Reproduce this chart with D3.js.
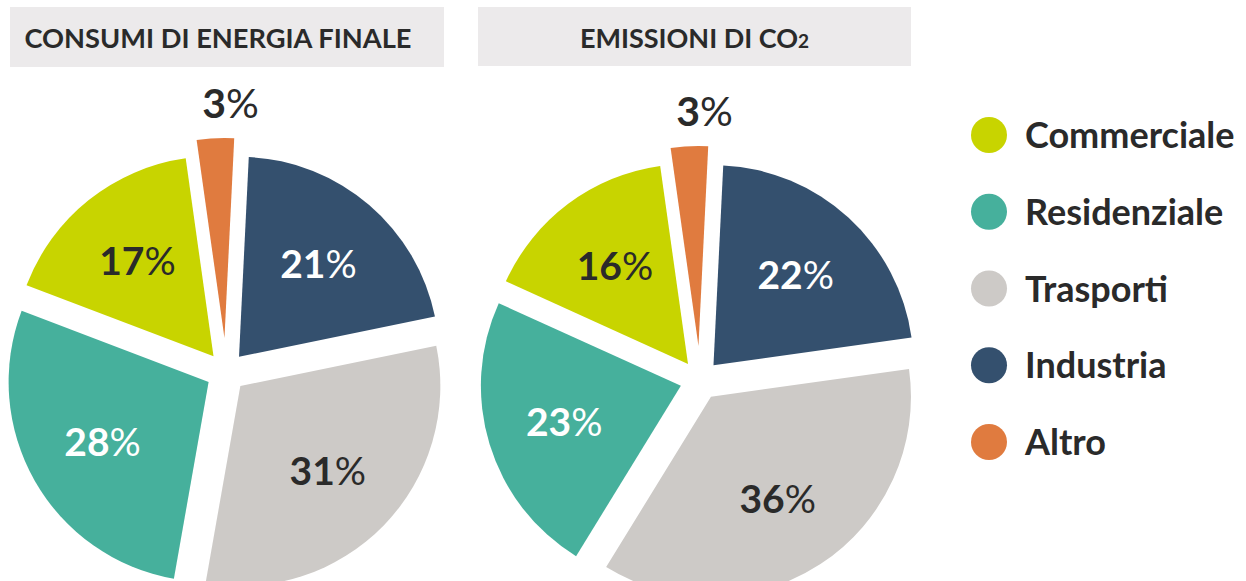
<!DOCTYPE html>
<html>
<head>
<meta charset="utf-8">
<script src="https://cdn.jsdelivr.net/npm/d3@7"></script>
<style>
  body { margin: 0; background: #fff; }
  svg { display: block; font-family: Lato, "Open Sans", sans-serif; }
</style>
</head>
<body>
<div id="divChart"></div>
<script>
// dati
var categories = ["Altro", "Industria", "Trasporti", "Residenziale", "Commerciale"];
var energyValues = [3, 21, 31, 28, 17];
var co2Values = [3, 22, 36, 23, 16];
var legendOrder = ["Commerciale", "Residenziale", "Trasporti", "Industria", "Altro"];
var colors = ["#E07B3F", "#34506E", "#CDCAC7", "#46B09C", "#C8D400"];
var labelColors = ["#2a2a2a", "#ffffff", "#2a2a2a", "#ffffff", "#2a2a2a"];

function init()
{
    var width = 1246;
    var height = 581;
    var radius = 200;
    var explode = 20;       // spostamento delle fette
    var explodeSmall = 34;  // fetta piccola (Altro) piu staccata
    var textColor = "#2a2a2a";

    var color = d3.scaleOrdinal().domain(categories).range(colors);
    var labelColor = d3.scaleOrdinal().domain(categories).range(labelColors);

    var svg = d3.select("#divChart").append("svg")
        .attr("width", width)
        .attr("height", height);

    // riquadri dei titoli
    var boxes = [
        {x: 10, w: 434, h: 60, title: "CONSUMI DI ENERGIA FINALE"},
        {x: 478, w: 433, h: 59, title: "EMISSIONI DI CO"}
    ];
    boxes.forEach(function(b, i) {
        svg.append("rect")
            .attr("x", b.x).attr("y", 7)
            .attr("width", b.w).attr("height", b.h)
            .attr("fill", "#ECEAEB");
        var t = svg.append("text")
            .attr("x", b.x + b.w / 2 - (i == 0 ? 9 : 0))
            .attr("y", 48)
            .attr("text-anchor", "middle")
            .attr("font-size", 27)
            .attr("font-weight", 700)
            .attr("fill", textColor)
            .text(b.title);
        if (i == 0) {
            t.attr("textLength", 387).attr("lengthAdjust", "spacingAndGlyphs");
        } else {
            t.append("tspan").attr("font-size", 19).text("2");
        }
    });

    var arc = d3.arc().innerRadius(0).outerRadius(radius);
    var labelArc = d3.arc().innerRadius(122).outerRadius(122);

    function drawPie(values, cx, cy, startDeg)
    {
        var s = startDeg * Math.PI / 180;
        var pie = d3.pie().sort(null)
            .value(function(d) { return d.value; })
            .startAngle(s).endAngle(s + 2 * Math.PI);
        var arcs = pie(categories.map(function(c, i) { return {cat: c, value: values[i]}; }));

        var g = svg.append("g").attr("transform", "translate(" + cx + "," + cy + ")");

        function offset(d, k) {
            var a = (d.startAngle + d.endAngle) / 2;
            return [Math.sin(a) * k, -Math.cos(a) * k];
        }
        function isSmall(d) { return d.data.value < 5; }

        g.selectAll("path.slice").data(arcs).enter().append("path")
            .attr("class", "slice")
            .attr("d", arc)
            .attr("fill", function(d) { return color(d.data.cat); })
            .attr("transform", function(d) {
                return "translate(" + offset(d, isSmall(d) ? explodeSmall : explode) + ")";
            });

        // etichette interne
        var inside = g.selectAll("text.lab").data(arcs.filter(function(d) { return !isSmall(d); }))
            .enter().append("text")
            .attr("class", "lab")
            .attr("text-anchor", "middle")
            .attr("font-size", 39)
            .attr("fill", function(d) { return labelColor(d.data.cat); })
            .attr("transform", function(d) {
                var c = labelArc.centroid(d);
                var o = offset(d, explode);
                return "translate(" + (c[0] + o[0]) + "," + (c[1] + o[1] + 14) + ")";
            });
        inside.append("tspan").attr("font-weight", 700).text(function(d) { return d.data.value; });
        inside.append("tspan").attr("font-weight", 400).text("%");

        // etichetta esterna per la fetta piccola
        var outside = g.selectAll("text.out").data(arcs.filter(isSmall))
            .enter().append("text")
            .attr("class", "out")
            .attr("text-anchor", "middle")
            .attr("font-size", 41)
            .attr("fill", textColor)
            .attr("transform", function(d) {
                var o = offset(d, radius + explodeSmall + 20);
                return "translate(" + (o[0] + 16) + "," + o[1] + ")";
            });
        outside.append("tspan").attr("font-weight", 700).text(function(d) { return d.data.value; });
        outside.append("tspan").attr("font-weight", 400).text("%");
    }

    drawPie(energyValues, 226, 372, -8);
    drawPie(co2Values, 700, 380, -8);

    // legenda
    var legendY = d3.scalePoint().domain(legendOrder).range([135, 442]);
    var legend = svg.append("g").selectAll("g").data(legendOrder).enter().append("g")
        .attr("transform", function(d) { return "translate(989," + legendY(d) + ")"; });
    legend.append("circle")
        .attr("r", 18)
        .attr("fill", function(d) { return color(d); });
    legend.append("text")
        .attr("x", 36)
        .attr("y", 13)
        .attr("font-size", 36)
        .attr("font-weight", 700)
        .attr("fill", textColor)
        .text(function(d) { return d; });
}

window.onload = init;
</script>
</body>
</html>
